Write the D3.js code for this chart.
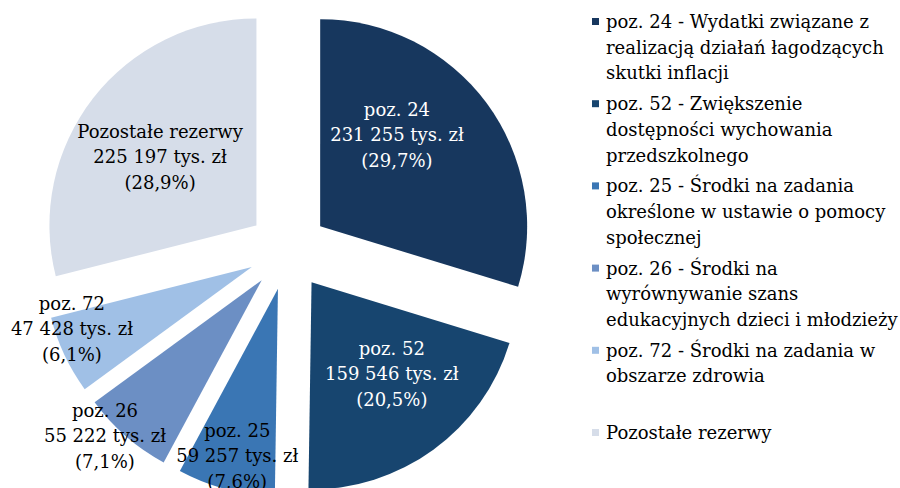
<!DOCTYPE html>
<html>
<head>
<meta charset="utf-8">
<script src="https://cdn.jsdelivr.net/npm/d3@7"></script>
<style>
  body { margin: 0; background: #fff; }
  text { font-family: "DejaVu Serif", "Liberation Serif", serif; }
</style>
</head>
<body>
<script>
// data
var categories = ["poz. 24", "poz. 52", "poz. 25", "poz. 26", "poz. 72", "Pozostałe rezerwy"];
var values = [231255, 159546, 59257, 55222, 47428, 225197];
var legendLabels = [
  ["poz. 24 - Wydatki związane z", "realizacją działań łagodzących", "skutki inflacji"],
  ["poz. 52 - Zwiększenie", "dostępności wychowania", "przedszkolnego"],
  ["poz. 25 - Środki na zadania", "określone w ustawie o pomocy", "społecznej"],
  ["poz. 26 - Środki na", "wyrównywanie szans", "edukacyjnych dzieci i młodzieży"],
  ["poz. 72 - Środki na zadania w", "obszarze zdrowia"],
  ["Pozostałe rezerwy"]
];
var colors = ["#17375e", "#17456f", "#3a76b4", "#6c8fc4", "#a0c0e6", "#d6dde9"];
var labelColors = ["#fff", "#fff", "#000", "#000", "#000", "#000"];

var width = 900, height = 488,
  cx = 288, cy = 250, radius = 207, explode = 40,
  fontSize = 18, lineHeight = 25.7;

// label placement: angle shift (deg) from slice middle, distance as share of radius
var labelLayout = [[-13.4, 0.576], [-5.1, 0.589], [-0.9, 0.832], [4.1, 1.068], [6.2, 0.919], [-2.5, 0.571]];

var pl = d3.formatLocale({ decimal: ",", thousands: "\u00a0", grouping: [3], currency: ["", ""] });
var fmtNum = pl.format(",d"), fmtPct = pl.format(".1f");

var svg = d3.select("body").append("svg")
  .attr("width", width)
  .attr("height", height);

var total = d3.sum(values);
var slices = d3.pie().sort(null)(values);
var arc = d3.arc().innerRadius(0).outerRadius(radius);

function polar(a, r) {
  return [Math.sin(a) * r, -Math.cos(a) * r];
}

var g = svg.append("g").attr("transform", "translate(" + cx + "," + cy + ")");

var slice = g.selectAll(".slice")
  .data(slices)
  .enter().append("g")
  .attr("class", "slice")
  .attr("transform", function (d) {
    var p = polar((d.startAngle + d.endAngle) / 2, explode);
    return "translate(" + p[0] + "," + p[1] + ")";
  });

slice.append("path")
  .attr("d", arc)
  .attr("fill", function (d, i) { return colors[i]; });

// Draw labels
slice.append("text")
  .attr("text-anchor", "middle")
  .style("font-size", fontSize + "px")
  .attr("fill", function (d, i) { return labelColors[i]; })
  .each(function (d, i) {
    var mid = (d.startAngle + d.endAngle) / 2 + labelLayout[i][0] * Math.PI / 180;
    var p = polar(mid, labelLayout[i][1] * radius);
    var lines = [
      categories[i],
      fmtNum(d.value) + " tys. zł",
      "(" + fmtPct(d.value / total * 100) + "%)"
    ];
    d3.select(this).selectAll("tspan")
      .data(lines)
      .enter().append("tspan")
      .attr("x", p[0])
      .attr("y", function (l, k) { return p[1] + (k - 1) * lineHeight; })
      .attr("dy", "0.35em")
      .text(function (l) { return l; });
  });

// Legend
var legendY = d3.scaleBand()
  .domain(d3.range(legendLabels.length))
  .range([9, 9 + 82.2 * legendLabels.length]);

var legend = svg.append("g")
  .selectAll("g")
  .data(legendLabels)
  .enter().append("g")
  .attr("transform", function (d, i) { return "translate(592," + legendY(i) + ")"; });

legend.append("rect")
  .attr("x", 0)
  .attr("y", 9)
  .attr("width", 7)
  .attr("height", 7)
  .attr("fill", function (d, i) { return colors[i]; });

legend.append("text")
  .style("font-size", fontSize + "px")
  .attr("fill", "#000")
  .selectAll("tspan")
  .data(function (d) { return d; })
  .enter().append("tspan")
  .attr("x", 14)
  .attr("y", function (l, k) { return 19 + k * lineHeight; })
  .text(function (l) { return l; });
</script>
</body>
</html>
